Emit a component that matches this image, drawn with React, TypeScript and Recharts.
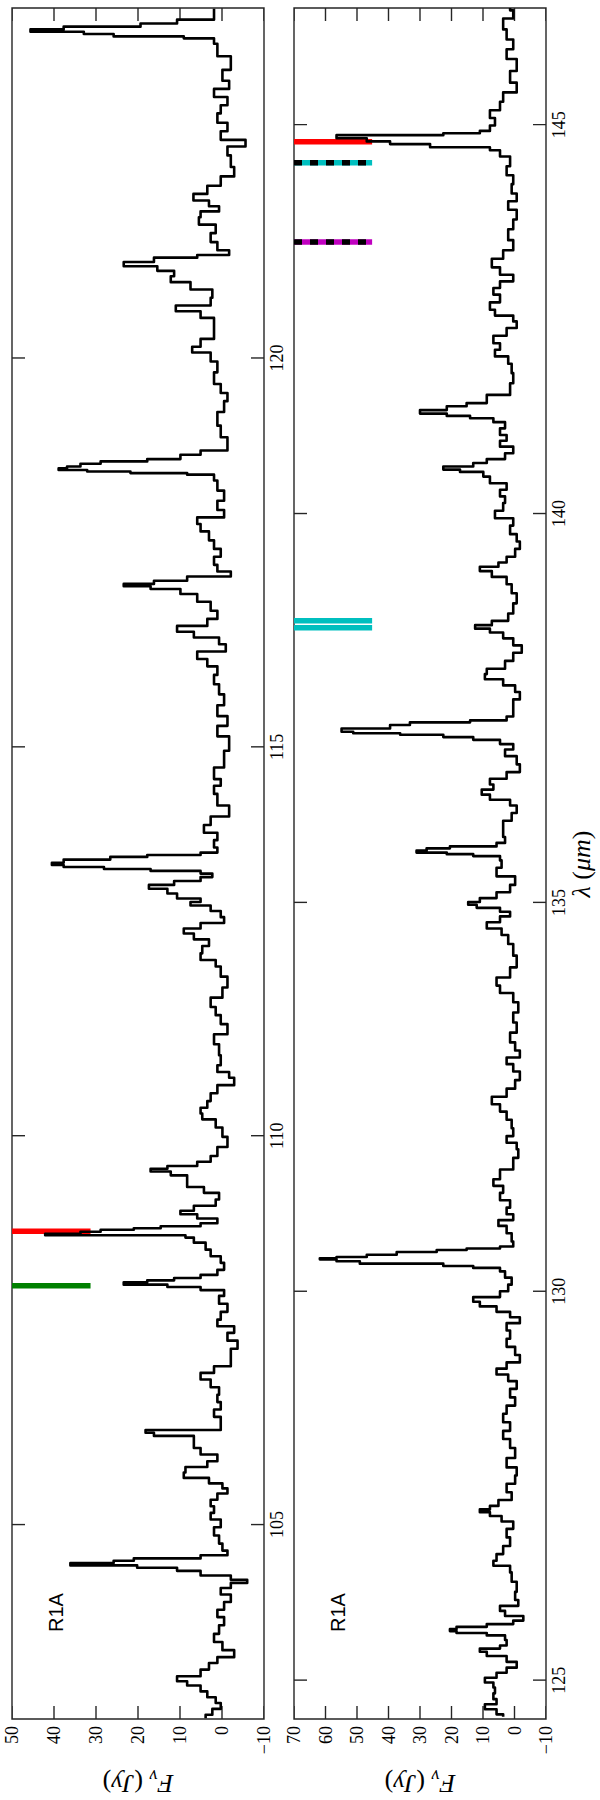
import React from 'react'
import { LineChart, Line, XAxis, YAxis, ReferenceArea } from 'recharts'

// upper panel: 102.5 - 124.5 um
const lamA = [
  102.51, 102.6, 102.66, 102.75, 102.81, 102.9, 102.96, 103.01, 103.09, 103.18, 103.26, 103.33, 103.44, 103.54, 103.65,
  103.76, 103.86, 103.95, 104.06, 104.14, 104.23, 104.27, 104.31, 104.38, 104.43, 104.46, 104.49, 104.52, 104.55, 104.58,
  104.63, 104.7, 104.81, 104.91, 105.02, 105.11, 105.19, 105.28, 105.36, 105.44, 105.49, 105.57, 105.63, 105.71, 105.77,
  105.86, 105.94, 106.03, 106.12, 106.16, 106.2, 106.23, 106.33, 106.44, 106.52, 106.63, 106.71, 106.82, 106.91, 106.99,
  107.08, 107.21, 107.31, 107.42, 107.51, 107.59, 107.68, 107.79, 107.89, 107.99, 108.04, 108.07, 108.1, 108.13, 108.15,
  108.19, 108.23, 108.32, 108.41, 108.49, 108.58, 108.67, 108.71, 108.73, 108.75, 108.78, 108.8, 108.82, 108.85, 108.9,
  108.97, 109.01, 109.06, 109.14, 109.22, 109.31, 109.37, 109.46, 109.52, 109.56, 109.59, 109.63, 109.7, 109.78, 109.93,
  110.04, 110.17, 110.25, 110.32, 110.4, 110.49, 110.6, 110.7, 110.79, 110.85, 110.96, 111.11, 111.24, 111.37, 111.5,
  111.6, 111.71, 111.84, 111.97, 112.12, 112.23, 112.29, 112.4, 112.48, 112.57, 112.63, 112.7, 112.77, 112.85, 112.93,
  112.99, 113.02, 113.08, 113.15, 113.2, 113.25, 113.3, 113.35, 113.39, 113.42, 113.44, 113.47, 113.49, 113.53, 113.57,
  113.6, 113.62, 113.66, 113.75, 113.85, 113.94, 114.05, 114.16, 114.33, 114.46, 114.54, 114.63, 114.84, 115.06, 115.21,
  115.33, 115.46, 115.61, 115.74, 115.87, 115.98, 116.09, 116.17, 116.28, 116.36, 116.45, 116.51, 116.6, 116.69, 116.81,
  116.92, 117.01, 117.05, 117.08, 117.11, 117.16, 117.22, 117.29, 117.39, 117.5, 117.59, 117.72, 117.82, 117.91, 117.99,
  118.1, 118.23, 118.36, 118.49, 118.51, 118.53, 118.55, 118.57, 118.59, 118.62, 118.66, 118.68, 118.72, 118.79, 118.83,
  118.92, 119.04, 119.22, 119.39, 119.5, 119.6, 119.73, 119.9, 120.01, 120.13, 120.16, 120.33, 120.46, 120.57, 120.63,
  120.72, 120.83, 120.93, 121.02, 121.08, 121.16, 121.2, 121.27, 121.31, 121.34, 121.43, 121.55, 121.66, 121.77, 121.85,
  121.92, 121.98, 122.07, 122.15, 122.28, 122.39, 122.52, 122.69, 122.75, 122.86, 122.97, 123.08, 123.21, 123.29, 123.42,
  123.5, 123.63, 123.78, 123.98, 124.1, 124.12, 124.15, 124.18, 124.21, 124.24, 124.28, 124.32, 124.38, 124.49,
]
const fluxA = [
  3.9, 2.3, 0.3, 1.5, 3.5, 5.1, 8.3, 10.7, 5.1, 3.1, 1.1, -2.9, -0.1, 1.9, 0.7,
  -0.5, 1.1, -0.5, -2.1, 0.3, -2.1, -6.0, -2.1, 5.1, 10.7, 20.2, 36.1, 25.8, 21.0, 5.1,
  -1.3, -0.1, 0.7, 1.9, 0.3, 2.7, 1.9, 2.7, 1.1, -1.3, -0.1, 3.1, 9.1, 8.7, 3.5,
  1.1, 5.1, 6.7, 6.7, 16.2, 18.2, 0.3, 0.3, 1.9, 0.3, 1.1, 0.7, 2.7, 5.1, 1.9,
  -2.1, -2.1, -3.7, -1.3, -2.9, 1.1, 0.3, -1.3, 0.7, -0.5, 5.1, 13.0, 23.4, 17.8, 11.4,
  5.1, 1.1, -0.5, 0.3, 2.7, 3.9, 6.7, 8.7, 42.1, 33.7, 28.9, 21.0, 14.6, 5.1, 1.1,
  5.9, 9.9, 6.7, 1.5, 0.7, 4.3, 8.3, 8.3, 12.2, 17.0, 13.0, 5.9, 2.7, 1.1, -1.3,
  -0.1, 1.5, 4.7, 5.1, 3.5, 2.7, 1.1, -2.9, -1.7, 1.1, 0.3, 0.7, 1.9, -1.3, 0.3,
  1.5, 2.7, -0.1, -1.3, 0.3, 1.5, 5.1, 4.7, 3.1, 6.7, 9.1, 5.1, -0.5, 0.3, 2.7,
  7.5, 5.1, 10.7, 13.0, 17.4, 11.4, 5.1, 2.3, 5.1, 17.0, 28.1, 37.7, 40.5, 37.7, 26.6,
  17.8, 5.1, 1.1, 1.9, 1.1, 4.3, 2.7, -1.7, 1.1, 1.9, 0.3, 1.9, -0.5, -1.7, 1.1,
  -1.3, 1.1, -0.5, 0.7, 1.9, 1.1, 3.5, 5.9, -0.9, 0.7, 6.7, 10.7, 3.5, 1.1, 2.7,
  5.9, 9.9, 17.0, 23.4, 16.2, 8.3, -2.1, 1.1, 1.9, 0.3, 1.9, 3.1, 5.1, 5.9, -0.5,
  1.1, -0.5, 1.1, 1.9, 8.3, 21.8, 32.1, 38.9, 36.9, 33.7, 28.9, 17.8, 9.9, 5.1, -1.3,
  -1.3, 0.3, 1.1, -0.5, -1.3, 0.3, 1.9, 1.1, 2.7, 7.1, 5.1, 1.9, 1.9, 5.1, 11.0,
  2.7, 2.3, 7.5, 12.2, 11.4, 15.4, 23.4, 16.2, 5.9, -1.7, 1.1, 2.7, 1.5, 5.5, 5.1,
  0.7, 3.1, 6.8, 3.5, 0.3, -2.9, -2.1, -1.3, -5.6, 0.3, -1.3, 1.1, 0.3, -1.3, 1.9,
  -1.7, -0.1, -2.1, 1.1, 1.9, 9.1, 25.8, 32.9, 45.6, 37.7, 19.4, 10.7, 1.9, 1.9,
]

// lower panel: 124.5 - 146.5 um
const lamB = [
  124.53, 124.59, 124.66, 124.72, 124.79, 124.87, 124.94, 125.0, 125.06, 125.13, 125.19, 125.28, 125.34, 125.39, 125.42,
  125.47, 125.56, 125.59, 125.62, 125.64, 125.67, 125.7, 125.74, 125.79, 125.86, 125.92, 125.99, 126.07, 126.2, 126.33,
  126.44, 126.5, 126.57, 126.67, 126.78, 126.89, 127.0, 127.08, 127.14, 127.18, 127.21, 127.27, 127.36, 127.47, 127.58,
  127.68, 127.79, 127.92, 128.05, 128.15, 128.26, 128.37, 128.48, 128.58, 128.69, 128.8, 128.89, 128.97, 129.04, 129.13,
  129.23, 129.34, 129.44, 129.55, 129.63, 129.7, 129.77, 129.84, 129.89, 129.96, 130.04, 130.13, 130.22, 130.29, 130.31,
  130.34, 130.37, 130.4, 130.42, 130.43, 130.45, 130.49, 130.52, 130.54, 130.56, 130.59, 130.69, 130.8, 130.88, 130.95,
  131.03, 131.12, 131.22, 131.31, 131.4, 131.48, 131.65, 131.78, 131.87, 131.95, 132.04, 132.15, 132.26, 132.36, 132.45,
  132.55, 132.66, 132.77, 132.88, 132.96, 133.05, 133.14, 133.26, 133.39, 133.52, 133.65, 133.78, 133.89, 133.97, 134.1,
  134.23, 134.4, 134.53, 134.63, 134.7, 134.79, 134.85, 134.91, 134.95, 134.99, 135.02, 135.09, 135.17, 135.28, 135.39,
  135.5, 135.58, 135.61, 135.63, 135.65, 135.68, 135.71, 135.73, 135.8, 135.88, 136.0, 136.1, 136.2, 136.29, 136.35,
  136.42, 136.48, 136.55, 136.63, 136.72, 136.83, 136.93, 137.0, 137.07, 137.11, 137.14, 137.17, 137.18, 137.21, 137.26,
  137.3, 137.33, 137.35, 137.43, 137.56, 137.66, 137.75, 137.83, 137.91, 137.96, 138.05, 138.16, 138.26, 138.35, 138.44,
  138.5, 138.54, 138.59, 138.65, 138.78, 138.91, 139.04, 139.14, 139.23, 139.29, 139.34, 139.4, 139.49, 139.6, 139.68,
  139.79, 139.9, 139.98, 140.09, 140.18, 140.26, 140.35, 140.43, 140.52, 140.55, 140.58, 140.63, 140.67, 140.73, 140.82,
  140.9, 140.97, 141.05, 141.14, 141.21, 141.24, 141.27, 141.3, 141.36, 141.4, 141.44, 141.61, 141.74, 141.87, 141.98,
  142.06, 142.15, 142.23, 142.34, 142.43, 142.51, 142.58, 142.66, 142.77, 142.86, 142.94, 143.03, 143.11, 143.22, 143.33,
  143.44, 143.59, 143.72, 143.84, 143.97, 144.06, 144.17, 144.3, 144.4, 144.53, 144.65, 144.69, 144.73, 144.77, 144.8,
  144.85, 144.88, 144.9, 144.94, 145.04, 145.13, 145.24, 145.35, 145.48, 145.6, 145.78, 145.91, 146.03, 146.16, 146.29,
  146.44, 146.5,
]
const fluxB = [
  3.6, 5.7, 9.4, 5.7, 6.7, 6.2, 6.7, 9.4, 5.7, 2.5, -0.7, 2.5, 8.8, 11.0, 4.6,
  2.5, 3.0, 8.8, 18.4, 20.5, 18.4, 8.8, 0.4, -2.8, 3.0, 4.6, -1.2, -0.2, -0.7, 0.9,
  1.4, 6.7, 5.7, 3.6, 1.4, 2.5, 0.4, 4.1, 7.8, 11.0, 7.8, 5.1, 0.9, 2.5, -0.2,
  -0.7, 2.5, -0.2, 1.4, 3.6, 1.4, 3.6, 2.5, -0.2, 1.4, -0.7, 2.0, 5.7, 2.5, -1.7,
  -0.2, 2.5, 1.4, 2.5, -1.7, 1.4, 5.7, 11.0, 13.1, 4.6, 2.0, 0.9, 3.0, 4.6, 13.1,
  22.6, 49.1, 56.5, 61.8, 56.5, 46.9, 37.4, 24.7, 15.2, 4.6, 0.4, 0.9, 2.5, 5.1, 0.4,
  2.5, 1.4, 4.6, 3.6, 6.7, 4.6, 0.4, -1.2, -0.7, 2.5, 0.4, 0.9, 2.5, 4.6, 7.2,
  2.5, -0.2, -1.7, 0.4, 2.5, -1.7, -0.2, 1.4, -0.7, 0.4, -1.2, 0.4, 4.6, 5.7, 1.4,
  -0.7, 0.4, 2.0, 4.1, 8.8, 4.6, 1.4, 4.6, 12.0, 14.7, 11.0, 5.7, 1.4, -0.2, 5.7,
  4.1, 4.6, 13.1, 21.5, 31.1, 27.9, 20.5, 5.7, 3.0, 3.6, 3.6, 0.9, -0.7, 1.4, 7.8,
  10.4, 6.7, 7.8, 2.5, -1.7, -0.7, 3.0, 0.4, 4.6, 13.1, 22.6, 36.3, 51.2, 54.9, 39.5,
  33.2, 14.1, 2.5, 0.4, 0.4, -1.7, -0.2, 3.6, 9.4, 8.8, 3.0, 0.4, -2.3, 0.4, 3.6,
  7.8, 12.5, 7.2, 2.0, 0.4, -0.7, 0.9, 2.5, 7.2, 11.0, 5.1, 2.5, -0.2, -1.7, -0.7,
  1.4, 0.4, 6.2, 3.6, 3.0, 4.6, 2.5, 7.8, 9.9, 17.3, 22.6, 13.1, 8.8, 3.0, 0.4,
  4.6, 2.5, 4.6, 3.0, 6.7, 14.1, 21.5, 30.0, 21.5, 15.2, 8.8, 1.4, 0.4, 0.9, 2.0,
  6.2, 4.6, 6.7, 2.5, -0.7, 0.4, 6.2, 7.8, 4.6, 6.7, 4.6, 0.4, 4.6, 7.2, 3.6,
  0.4, 2.0, 0.4, -0.7, 2.0, -0.7, 0.9, 0.4, 2.5, 1.4, 4.6, 7.8, 26.8, 39.5, 46.9,
  56.5, 22.6, 11.0, 7.8, 6.2, 7.8, 4.6, 3.6, -0.7, 1.4, -0.7, 2.5, 0.4, 2.5, 3.6,
  0.4, 1.4,
]

const lamTicksA = [105, 110, 115, 120]
const lamTicksB = [125, 130, 135, 140, 145]
const fluxTicksA = [-10, 0, 10, 20, 30, 40, 50]
const fluxTicksB = [-10, 0, 10, 20, 30, 40, 50, 60, 70]

// line identification bars (hang from the top of the panel)
const markLamA = [108.07, 108.77]
const markColorA = ['#008000', '#ff0000']
const markDashA = [false, false]
const markLowA = 31.3

const markLamB = [138.53, 138.62, 143.49, 144.51, 144.78]
const markColorB = ['#00bfbf', '#00bfbf', '#bf00bf', '#00bfbf', '#ff0000']
const markDashB = [false, false, true, true, false]
const markLowB = 45.2

const FRAME = '#262626'
const SERIF = '"Liberation Serif", "DejaVu Serif", serif'
const SANS = '"Liberation Sans", Arial, sans-serif'

// plot box size inside each panel (px) and inward tick length
const PLOT_W = 1711
const PLOT_H = 252
const TICK_PX = 13

const fmt = (v: number) => (v < 0 ? '\u2212' + Math.abs(v) : String(v))
const tickFont = { fontFamily: SERIF, fontSize: 18, fill: '#000' }

interface PanelProps {
  lam: number[]
  flux: number[]
  lamDomain: [number, number]
  lamTicks: number[]
  fluxDomain: [number, number]
  fluxTicks: number[]
  markLam: number[]
  markColor: string[]
  markDash: boolean[]
  markLow: number
  height: number
  bottom: number
}

function Panel(props: PanelProps) {
  const { lam, flux, lamDomain, lamTicks, fluxDomain, fluxTicks, height, bottom } = props
  const rows = lam.map((l, i) => ({ lam: l, f: flux[i] }))
  const [l0, l1] = lamDomain
  const [f0, f1] = fluxDomain
  const dLam = (TICK_PX * (l1 - l0)) / PLOT_W
  const dFlux = (TICK_PX * (f1 - f0)) / PLOT_H

  // inward tick marks on the four sides of the box
  const tickSegs: { lam: number; f: number }[][] = []
  lamTicks.forEach((t) => {
    tickSegs.push([{ lam: t, f: f0 }, { lam: t, f: f0 + dFlux }])
    tickSegs.push([{ lam: t, f: f1 }, { lam: t, f: f1 - dFlux }])
  })
  fluxTicks.forEach((v) => {
    tickSegs.push([{ lam: l0, f: v }, { lam: l0 + dLam, f: v }])
    tickSegs.push([{ lam: l1, f: v }, { lam: l1 - dLam, f: v }])
  })

  const common = {
    xAxisId: 'b',
    yAxisId: 'l',
    dataKey: 'f',
    type: 'linear' as const,
    dot: false,
    activeDot: false,
    isAnimationActive: false,
  }

  return (
    <LineChart width={1800} height={height} margin={{ top: 12, right: 8, bottom, left: 0 }}>
      <XAxis
        xAxisId="b"
        dataKey="lam"
        type="number"
        domain={lamDomain}
        allowDataOverflow
        ticks={lamTicks}
        interval={0}
        height={30}
        tickSize={0}
        tickMargin={6}
        tickLine={false}
        axisLine={false}
        tick={tickFont}
      />
      <YAxis
        yAxisId="l"
        type="number"
        domain={fluxDomain}
        allowDataOverflow
        ticks={fluxTicks}
        interval={0}
        width={81}
        tickSize={0}
        tickMargin={7}
        tickLine={false}
        axisLine={false}
        tick={tickFont}
        tickFormatter={fmt}
      />
      <ReferenceArea
        xAxisId="b"
        yAxisId="l"
        x1={l0}
        x2={l1}
        y1={f0}
        y2={f1}
        fill="none"
        fillOpacity={0}
        stroke={FRAME}
        strokeWidth={1.4}
        strokeOpacity={1}
        ifOverflow="visible"
      />
      {tickSegs.map((seg, i) => (
        <Line key={'t' + i} {...common} data={seg} stroke={FRAME} strokeWidth={1.4} />
      ))}
      {props.markLam.map((l, i) => (
        <Line
          key={'m' + i}
          {...common}
          data={[{ lam: l, f: f1 }, { lam: l, f: props.markLow }]}
          stroke={props.markColor[i]}
          strokeWidth={5.5}
        />
      ))}
      {props.markLam.map((l, i) =>
        props.markDash[i] ? (
          <Line
            key={'d' + i}
            {...common}
            data={[{ lam: l, f: f1 }, { lam: l, f: props.markLow }]}
            stroke="#000"
            strokeWidth={5.5}
            strokeDasharray="8 8"
          />
        ) : null
      )}
      <Line {...common} data={rows} type="step" stroke="#000" strokeWidth={2.6} strokeLinejoin="round" />
    </LineChart>
  )
}

export default function App() {
  return (
    <div style={{ position: 'absolute', left: 0, top: 0, width: 600, height: 1800, overflow: 'hidden', background: '#fff' }}>
      <div
        style={{
          position: 'absolute',
          left: 0,
          top: 0,
          width: 1800,
          height: 600,
          transformOrigin: '0 0',
          transform: 'translateY(1800px) rotate(-90deg)',
        }}
      >
        <div style={{ position: 'absolute', left: 0, top: 0 }}>
          <Panel
            lam={lamA}
            flux={fluxA}
            lamDomain={[102.5, 124.5]}
            lamTicks={lamTicksA}
            fluxDomain={[-10, 50]}
            fluxTicks={fluxTicksA}
            markLam={markLamA}
            markColor={markColorA}
            markDash={markDashA}
            markLow={markLowA}
            height={294}
            bottom={0}
          />
        </div>
        <div style={{ position: 'absolute', left: 0, top: 282 }}>
          <Panel
            lam={lamB}
            flux={fluxB}
            lamDomain={[124.5, 146.5]}
            lamTicks={lamTicksB}
            fluxDomain={[-10, 70]}
            fluxTicks={fluxTicksB}
            markLam={markLamB}
            markColor={markColorB}
            markDash={markDashB}
            markLow={markLowB}
            height={318}
            bottom={24}
          />
        </div>
        <svg width={1800} height={600} style={{ position: 'absolute', left: 0, top: 0, pointerEvents: 'none' }}>
          <text x={168} y={63} fontFamily={SANS} fontSize={20} fill="#000">R1A</text>
          <text x={168} y={345} fontFamily={SANS} fontSize={20} fill="#000">R1A</text>
          {[138, 420].map((cy) => (
            <text
              key={cy}
              x={25}
              y={cy}
              transform={`rotate(-90 25 ${cy})`}
              textAnchor="middle"
              fontFamily={SERIF}
              fontSize={26}
              fill="#000"
            >
              <tspan fontStyle="italic">F</tspan>
              <tspan fontStyle="italic" fontSize={18} dy={5}>ν</tspan>
              <tspan dy={-5}>{'   ('}</tspan>
              <tspan fontStyle="italic">Jy</tspan>
              <tspan>)</tspan>
            </text>
          ))}
          <text x={936} y={590} textAnchor="middle" fontFamily={SERIF} fontSize={26} fill="#000">
            <tspan fontStyle="italic">λ</tspan>
            <tspan>{'  ('}</tspan>
            <tspan fontStyle="italic">μm</tspan>
            <tspan>)</tspan>
          </text>
        </svg>
      </div>
    </div>
  )
}
